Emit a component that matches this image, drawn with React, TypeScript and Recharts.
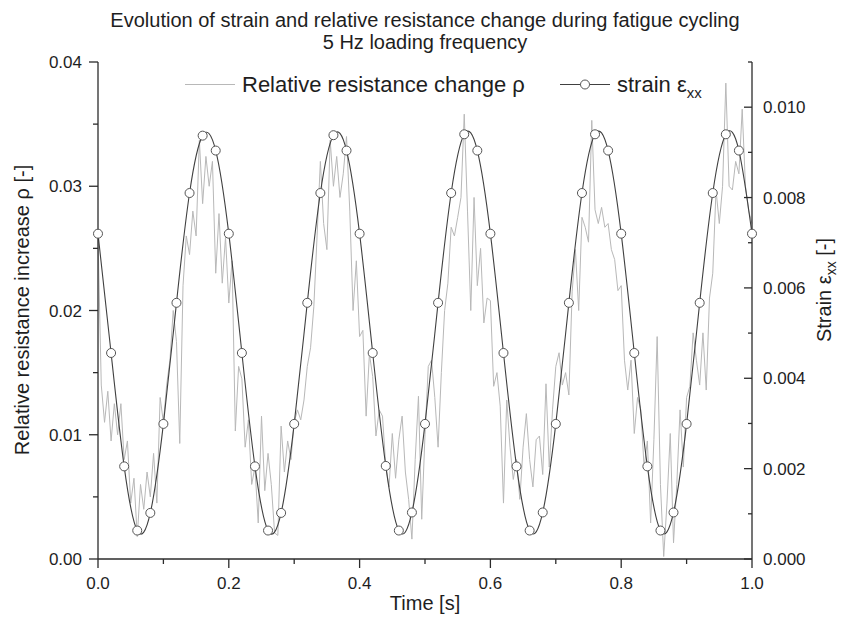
import { Line, LineChart, XAxis, YAxis } from "recharts";

const W = 831;
const H = 620;
const FONT = '"Liberation Sans", Arial, Helvetica, sans-serif';
const AXIS = "#2b2b2b";
const TEXT = "#1e1e1e";
const RES_COLOR = "#b8b8b8";
const STRAIN_COLOR = "#404040";

// strain eps_xx, sampled every 0.02 s (values in 1e-3)
const STRAIN_STEP = 0.02;
const STRAIN_MILLI = [
  7.2, 4.56, 2.05, 0.63, 1.02, 2.99, 5.67, 8.1, 9.37, 9.04,
  7.2, 4.56, 2.05, 0.63, 1.02, 2.99, 5.67, 8.1, 9.38, 9.04,
  7.2, 4.56, 2.06, 0.63, 1.03, 2.99, 5.67, 8.1, 9.4, 9.04,
  7.2, 4.56, 2.05, 0.63, 1.03, 2.99, 5.67, 8.1, 9.4, 9.04,
  7.2, 4.56, 2.05, 0.63, 1.03, 2.99, 5.67, 8.1, 9.4, 9.04,
  7.2,
];

// relative resistance change rho, sampled every 0.005 s (values in 1e-3), one array per load cycle
const RES_STEP = 0.005;
const RES_CYCLE_1 = [
  26.0, 14.0, 11.0, 13.5, 9.5, 12.5, 10.0, 12.5, 8.0, 9.5,
  4.5, 6.5, 1.8, 6.0, 4.0, 7.0, 5.0, 8.5, 4.5, 13.0,
  11.0, 14.0, 16.0, 20.0, 17.5, 9.3, 22.0, 26.0, 24.5, 28.0,
  26.0, 33.7, 28.6, 32.4, 30.0, 32.0, 23.0, 27.8, 22.2, 25.9,
];
const RES_CYCLE_2 = [
  20.6, 24.0, 10.3, 15.5, 14.5, 9.0, 11.2, 6.0, 7.4, 2.9,
  11.5, 5.5, 8.5, 6.0, 2.1, 1.9, 10.7, 7.0, 9.5, 8.0,
  11.0, 12.0, 11.2, 12.8, 15.5, 17.0, 20.3, 26.0, 32.0, 27.0,
  24.9, 33.7, 30.0, 32.4, 29.1, 31.0, 34.0, 28.0, 20.0, 24.0,
];
const RES_CYCLE_3 = [
  17.9, 18.4, 11.5, 16.5, 14.7, 9.9, 12.0, 11.5, 7.5, 5.8,
  10.1, 6.5, 9.6, 11.5, 7.0, 4.8, 1.6, 8.0, 13.1, 3.2,
  10.0, 15.5, 16.0, 13.0, 9.0, 15.0, 20.0, 22.2, 26.7, 26.0,
  27.5, 29.1, 35.8, 28.0, 20.0, 29.1, 22.0, 25.0, 19.0, 21.0,
];
const RES_CYCLE_4 = [
  20.8, 13.9, 15.0, 12.3, 4.5, 12.8, 9.0, 6.4, 8.0, 4.8,
  9.0, 11.7, 8.0, 5.8, 9.6, 9.9, 6.8, 14.1, 7.4, 12.0,
  15.5, 16.6, 14.0, 15.0, 13.2, 21.5, 24.9, 20.0, 27.5, 26.7,
  25.5, 35.3, 28.1, 27.0, 28.3, 26.7, 27.0, 24.9, 24.1, 21.6,
];
const RES_CYCLE_5 = [
  22.0, 16.0, 13.6, 16.0, 10.1, 13.0, 12.0, 7.4, 9.5, 2.9,
  9.6, 17.9, 6.0, 0.2, 4.5, 10.1, 1.3, 6.0, 12.0, 7.4,
  13.0, 13.9, 18.2, 16.0, 14.0, 18.2, 13.6, 21.0, 23.0, 29.7,
  27.0, 30.0, 38.3, 30.0, 29.7, 32.0, 31.0, 36.2, 30.0, 28.0,
  27.0,
];

const X_TICKS = [0, 0.1, 0.2, 0.3, 0.4, 0.5, 0.6, 0.7, 0.8, 0.9, 1.0];
const LEFT_TICKS = [0, 0.005, 0.01, 0.015, 0.02, 0.025, 0.03, 0.035, 0.04];
const RIGHT_TICKS = [0, 0.001, 0.002, 0.003, 0.004, 0.005, 0.006, 0.007, 0.008, 0.009, 0.01, 0.011];

const strainData = STRAIN_MILLI.map((v, i) => ({ t: +(i * STRAIN_STEP).toFixed(3), s: v / 1000 }));
const resData = [...RES_CYCLE_1, ...RES_CYCLE_2, ...RES_CYCLE_3, ...RES_CYCLE_4, ...RES_CYCLE_5].map((v, i) => ({
  t: +(i * RES_STEP).toFixed(3),
  r: v / 1000,
}));

const tickText = { fontFamily: FONT, fontSize: 17, fill: TEXT };

function XTick({ x, y, payload }: any) {
  const major = Math.round(payload.value * 10) % 2 === 0;
  return (
    <g>
      <line x1={x} x2={x} y1={y} y2={y + (major ? 9 : 5)} stroke={AXIS} strokeWidth={1.3} />
      {major && (
        <text x={x} y={y + 30} textAnchor="middle" {...tickText}>
          {payload.value.toFixed(1)}
        </text>
      )}
    </g>
  );
}

function LeftTick({ x, y, payload }: any) {
  const major = Math.round(payload.value * 1000) % 10 === 0;
  return (
    <g>
      <line x1={x - (major ? 9 : 5)} x2={x} y1={y} y2={y} stroke={AXIS} strokeWidth={1.3} />
      {major && (
        <text x={x - 16} y={y} dy="0.36em" textAnchor="end" {...tickText}>
          {payload.value.toFixed(2)}
        </text>
      )}
    </g>
  );
}

function RightTick({ x, y, payload }: any) {
  const n = Math.round(payload.value * 1000);
  const major = n % 2 === 0 && n <= 10;
  return (
    <g>
      <line x1={x - (major ? 8 : 4)} x2={x} y1={y} y2={y} stroke={AXIS} strokeWidth={1.3} />
      {major && (
        <text x={x + 11} y={y} dy="0.36em" textAnchor="start" {...tickText}>
          {payload.value.toFixed(3)}
        </text>
      )}
    </g>
  );
}

export default function App() {
  return (
    <div style={{ position: "relative", width: W, height: H, background: "#fff" }}>
      <LineChart width={W} height={H} margin={{ top: 54, right: 0, bottom: 0, left: 0 }}>
        <XAxis
          dataKey="t"
          type="number"
          domain={[0, 1]}
          ticks={X_TICKS}
          height={69}
          tickSize={0}
          tickMargin={0}
          tickLine={false}
          tick={<XTick />}
          axisLine={{ stroke: AXIS, strokeWidth: 1.3 }}
          allowDuplicatedCategory={false}
        />
        <YAxis
          yAxisId="left"
          domain={[0, 0.04]}
          ticks={LEFT_TICKS}
          width={90}
          tickSize={0}
          tickMargin={0}
          tickLine={false}
          tick={<LeftTick />}
          axisLine={{ stroke: AXIS, strokeWidth: 1.3 }}
          interval={0}
        />
        <YAxis
          yAxisId="right"
          orientation="right"
          domain={[0, 0.011]}
          ticks={RIGHT_TICKS}
          width={87}
          tickSize={0}
          tickMargin={0}
          tickLine={false}
          tick={<RightTick />}
          axisLine={{ stroke: AXIS, strokeWidth: 1.3 }}
          interval={0}
        />
        <Line
          yAxisId="left"
          data={resData}
          dataKey="r"
          type="linear"
          stroke={RES_COLOR}
          strokeWidth={1}
          dot={false}
          isAnimationActive={false}
        />
        <Line
          yAxisId="right"
          data={strainData}
          dataKey="s"
          type="natural"
          stroke={STRAIN_COLOR}
          strokeWidth={1.1}
          dot={{ r: 4.5, fill: "#fff", stroke: "#555", strokeWidth: 1 }}
          isAnimationActive={false}
        />
      </LineChart>

      <svg width={W} height={H} style={{ position: "absolute", left: 0, top: 0, pointerEvents: "none" }}>
        <g fontFamily={FONT} fill={TEXT}>
          <text x={417} y={19} textAnchor="middle" fontSize={20}>
            Evolution of strain and relative resistance change during fatigue cycling
          </text>
          <text x={417} y={41} textAnchor="middle" fontSize={20}>
            5 Hz loading frequency
          </text>
          <text x={417} y={602} textAnchor="middle" fontSize={20}>
            Time [s]
          </text>
          <text x={21} y={302} textAnchor="middle" fontSize={20} transform="rotate(-90 21 302)">
            Relative resistance increase ρ [-]
          </text>
          <text x={823} y={282} textAnchor="middle" fontSize={20} transform="rotate(-90 823 282)">
            Strain ε<tspan dy={5} fontSize={14}>xx</tspan>
            <tspan dy={-5}> [-]</tspan>
          </text>

          <line x1={177} x2={227} y1={76.5} y2={76.5} stroke={RES_COLOR} strokeWidth={1.2} />
          <text x={234} y={84} fontSize={22}>
            Relative resistance change ρ
          </text>
          <line x1={552} x2={602} y1={76.5} y2={76.5} stroke={STRAIN_COLOR} strokeWidth={1.2} />
          <circle cx={577} cy={76.5} r={4.5} fill="#fff" stroke="#555" strokeWidth={1} />
          <text x={609} y={84} fontSize={22}>
            strain ε<tspan dy={6} fontSize={15}>xx</tspan>
          </text>
        </g>
      </svg>
    </div>
  );
}
